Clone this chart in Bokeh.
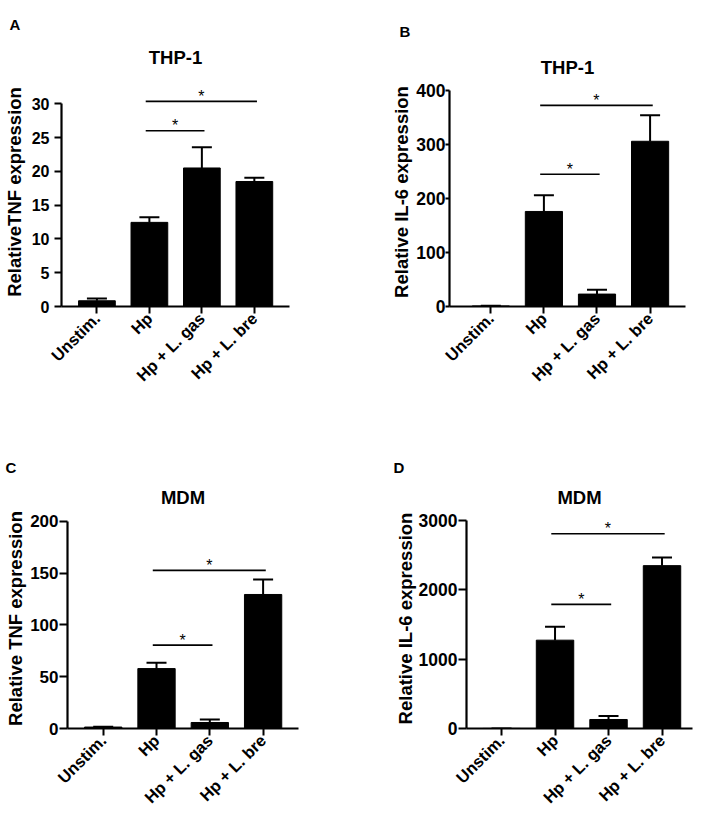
import math
from bokeh.plotting import figure
from bokeh.models import ColumnDataSource, Range1d, FixedTicker, Whisker, TeeHead, Title
from bokeh.layouts import column, row
from bokeh.embed import file_html
from bokeh.resources import INLINE
from bokeh.core.properties import value

# ---------------- data ----------------
categories = ["Unstim.", "Hp", "Hp + L. gas", "Hp + L. bre"]

a_mean = [0.85, 12.45, 20.5, 18.5]
a_upper = [1.2, 13.2, 23.55, 19.05]
a_ticks = [0, 5, 10, 15, 20, 25, 30]
a_sig_heights = [26.0, 30.35]

b_mean = [1.0, 176, 23, 306]
b_upper = [1.5, 206, 31, 354]
b_ticks = [0, 100, 200, 300, 400]
b_sig_heights = [245, 372.5]

c_mean = [1.4, 57.8, 5.8, 129.3]
c_upper = [1.8, 63.4, 8.8, 143.8]
c_ticks = [0, 50, 100, 150, 200]
c_sig_heights = [80.4, 152.6]

d_mean = [1, 1274, 130, 2349]
d_upper = [1, 1469, 181, 2466]
d_ticks = [0, 1000, 2000, 3000]
d_sig_heights = [1790, 2809]

sig_from = [1, 1]
sig_to = [2, 3]

FONT = "Liberation Sans"


def make_panel(letter, title, ylabel, means, uppers, yticks, sig_heights,
               width, height, mb_left, mb_right, mb_top, mb_bottom,
               x_range, y_end, letter_offset, title_standoff, letter_standoff,
               tick_font, xtick_font, ytick_out, ylabel_standoff, ytick_label_standoff):
    p = figure(width=width, height=height, output_backend="svg", toolbar_location=None,
               title=None,
               x_range=Range1d(*x_range), y_range=Range1d(0, y_end),
               min_border_left=mb_left, min_border_right=mb_right,
               min_border_top=mb_top, min_border_bottom=mb_bottom)
    p.outline_line_color = None
    p.grid.visible = False
    p.background_fill_color = "white"
    p.border_fill_color = "white"

    xs = list(range(len(categories)))
    src = ColumnDataSource(dict(x=xs, top=means, upper=uppers))
    p.vbar(x="x", top="top", width=0.7, source=src,
           fill_color="black", line_color="black", line_width=1)
    w = Whisker(base="x", lower="top", upper="upper", source=src,
                line_width=2, line_color="black",
                upper_head=TeeHead(size=20, line_width=2, line_color="black"),
                lower_head=None)
    p.add_layout(w)

    # significance brackets
    x0 = [f - 0.07 for f in sig_from]
    x1 = [t + 0.05 for t in sig_to]
    mid = [(a + b) / 2 for a, b in zip(x0, x1)]
    ssrc = ColumnDataSource(dict(x0=x0, x1=x1, y=sig_heights, mid=mid,
                                 star=["*"] * len(sig_heights)))
    p.segment(x0="x0", y0="y", x1="x1", y1="y", source=ssrc,
              line_color="black", line_width=1.6)
    p.text(x="mid", y="y", text="star", source=ssrc, text_align="center",
           text_baseline="alphabetic", y_offset=-5, text_color="black",
           text_font=value(FONT), text_font_size="16px")

    # axes
    p.yaxis.ticker = FixedTicker(ticks=yticks)
    p.yaxis.bounds = (0, yticks[-1])
    p.yaxis.minor_tick_line_color = None
    p.yaxis.axis_label = ylabel
    p.xaxis.ticker = FixedTicker(ticks=xs)
    p.xaxis.major_label_overrides = {i: c for i, c in enumerate(categories)}
    p.xaxis.major_label_orientation = math.pi / 4
    p.xaxis.minor_tick_line_color = None
    for ax in (p.xaxis, p.yaxis):
        ax.axis_line_width = 2.2
        ax.axis_line_color = "black"
        ax.major_tick_line_width = 2
        ax.major_tick_line_color = "black"
        ax.major_tick_out = 7
        ax.major_tick_in = 0
        ax.major_label_text_font = FONT
        ax.major_label_text_font_style = "bold"
        ax.major_label_text_color = "black"
        ax.axis_label_text_font = FONT
        ax.axis_label_text_font_style = "bold"
        ax.axis_label_text_font_size = "18.5px"
        ax.axis_label_text_color = "black"
    p.yaxis.major_label_text_font_size = tick_font
    p.xaxis.major_label_text_font_size = xtick_font
    p.yaxis.major_tick_out = ytick_out
    p.yaxis.major_label_standoff = ytick_label_standoff
    p.yaxis.axis_label_standoff = ylabel_standoff
    p.xaxis.major_label_standoff = 2

    t = Title(text=title, align="center", text_font=FONT, text_font_style="bold",
              text_font_size="18.5px", text_color="black", standoff=title_standoff)
    p.add_layout(t, "above")
    lt = Title(text=letter, align="left", offset=letter_offset, text_font=FONT,
               text_font_style="bold", text_font_size="15px", text_color="black",
               standoff=letter_standoff)
    p.add_layout(lt, "above")
    return p


pA = make_panel("A", "THP-1", "RelativeTNF expression", a_mean, a_upper, a_ticks, a_sig_heights,
                362, 410, 57, 73, 77, 104, (-0.675, 3.67), 33.89, -52, 20, 4,
                "16px", "16.5px", 7, 4, 5)
pB = make_panel("B", "THP-1", "Relative IL-6 expression", b_mean, b_upper, b_ticks, b_sig_heights,
                331, 410, 87, 8, 77, 104, (-0.778, 3.667), 424.1, -50, 0, 29,
                "17.5px", "16.5px", 4, 1, 0)
pC = make_panel("C", "MDM", "Relative TNF expression", c_mean, c_upper, c_ticks, c_sig_heights,
                362, 406, 67, 64, 98, 88, (-0.67, 3.664), 212.25, -62, 2, 16,
                "17px", "16.5px", 8, 1, 1)
pD = make_panel("D", "MDM", "Relative IL-6 expression", d_mean, d_upper, d_ticks, d_sig_heights,
                331, 406, 104, 1, 98, 88, (-0.655, 3.57), 3173, -73, 2, 15,
                "17.5px", "16.5px", 8, 0, 1)

layout = column(row(pA, pB), row(pC, pD))

with open("out.html", "w") as f:
    f.write(file_html(layout, INLINE))
